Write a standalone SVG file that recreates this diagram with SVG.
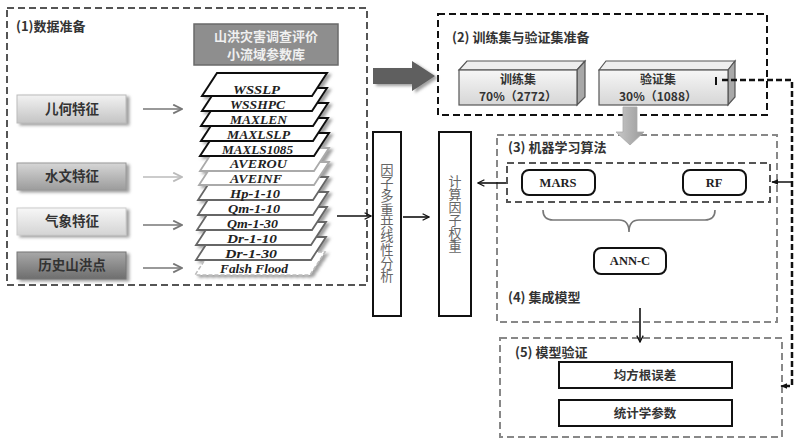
<svg xmlns="http://www.w3.org/2000/svg" width="800" height="443" viewBox="0 0 800 443">
<defs>
<style>
.cn{font-family:"Noto Sans CJK SC","Liberation Serif",serif;font-weight:bold;fill:#333;}
.lt{font-family:"Liberation Serif","Noto Sans CJK SC",serif;font-weight:bold;fill:#222;font-size:12.5px;}
.lay{font-family:"Liberation Serif",serif;font-weight:bold;font-style:italic;font-size:13px;fill:#222;}
.sec{fill:none;stroke-width:2;stroke-dasharray:7 4;}
.arr{fill:none;stroke-width:1.6;}
.vt{font-family:"Noto Sans CJK SC",serif;fill:#666;writing-mode:tb;}
</style>
<linearGradient id="gA" x1="0" y1="0" x2="0" y2="1"><stop offset="0" stop-color="#f2f2f2"/><stop offset="1" stop-color="#c4c4c4"/></linearGradient>
<linearGradient id="gB" x1="0" y1="0" x2="0" y2="1"><stop offset="0" stop-color="#d6d6d6"/><stop offset="1" stop-color="#9c9c9c"/></linearGradient>
<linearGradient id="gC" x1="0" y1="0" x2="0" y2="1"><stop offset="0" stop-color="#f7f7f7"/><stop offset="1" stop-color="#d4d4d4"/></linearGradient>
<linearGradient id="gD" x1="0" y1="0" x2="0" y2="1"><stop offset="0" stop-color="#a8a8a8"/><stop offset="1" stop-color="#6e6e6e"/></linearGradient>
<linearGradient id="gF" x1="0" y1="0" x2="0" y2="1"><stop offset="0" stop-color="#f6f6f6"/><stop offset="1" stop-color="#d6d6d6"/></linearGradient>
<linearGradient id="gG" x1="0" y1="0" x2="1" y2="0"><stop offset="0" stop-color="#c8c8c8"/><stop offset="1" stop-color="#9a9a9a"/></linearGradient>
<filter id="sh" x="-10%" y="-20%" width="130%" height="160%"><feDropShadow dx="3" dy="2" stdDeviation="1.5" flood-color="#777" flood-opacity="0.7"/></filter>
<marker id="mk" viewBox="0 0 10 10" refX="9" refY="5" markerWidth="8" markerHeight="8" orient="auto" markerUnits="userSpaceOnUse"><path d="M1,1 L9,5 L1,9" fill="none" stroke="#111" stroke-width="1.6"/></marker>
<marker id="mg" viewBox="0 0 10 10" refX="9" refY="5" markerWidth="11" markerHeight="11" orient="auto" markerUnits="userSpaceOnUse"><path d="M1,1 L9,5 L1,9" fill="none" stroke="#777" stroke-width="1.6"/></marker>
<marker id="ml" viewBox="0 0 10 10" refX="9" refY="5" markerWidth="11" markerHeight="11" orient="auto" markerUnits="userSpaceOnUse"><path d="M1,1 L9,5 L1,9" fill="none" stroke="#bbb" stroke-width="1.6"/></marker>
<marker id="mf" viewBox="0 0 10 10" refX="9" refY="5" markerWidth="7" markerHeight="7" orient="auto" markerUnits="userSpaceOnUse"><path d="M0,1 L10,5 L0,9 Z" fill="#111"/></marker>
</defs>
<rect width="800" height="443" fill="#fff"/>

<g id="sec1">
<rect class="sec" x="7" y="8" width="360" height="277" stroke="#555"/>
<text class="cn" x="16" y="31" font-size="13">(1)数据准备</text>
</g>

<g id="db">
<rect x="194" y="24" width="144" height="41" fill="#8e8e8e" stroke="#6a6a6a" stroke-width="1.5"/>
<text class="cn" x="266" y="41" font-size="13" text-anchor="middle" style="fill:#f0f0f0">山洪灾害调查评价</text>
<text class="cn" x="266" y="59" font-size="13" text-anchor="middle" style="fill:#f0f0f0">小流域参数库</text>
</g>

<g id="geo"><rect x="17" y="95" width="109" height="28" fill="url(#gA)" stroke="#bbb" filter="url(#sh)"/><text class="cn" x="72" y="114" font-size="13.5" text-anchor="middle">儿何特征</text></g>
<g id="hyd"><rect x="17" y="163" width="109" height="27" fill="url(#gB)" stroke="#999" filter="url(#sh)"/><text class="cn" x="72" y="181" font-size="13.5" text-anchor="middle">水文特征</text></g>
<g id="met"><rect x="17" y="208" width="109" height="27" fill="url(#gC)" stroke="#ccc" filter="url(#sh)"/><text class="cn" x="72" y="226" font-size="13.5" text-anchor="middle">气象特征</text></g>
<g id="hist"><rect x="17" y="252" width="109" height="27" fill="url(#gD)" stroke="#777" filter="url(#sh)"/><text class="cn" x="72" y="270" font-size="13.5" text-anchor="middle">历史山洪点</text></g>

<g id="stack">
<g filter="url(#sh)">
<polygon points="210,252 325,252 310,275 195,275" fill="#fff" stroke="#bbb" stroke-width="1.5" stroke-dasharray="4 2"/>
<polygon points="211,237 326,237 311,260 196,260" fill="#fff" stroke="#666" stroke-width="1.8"/>
<polygon points="211,222 326,222 311,245 196,245" fill="#fff" stroke="#666" stroke-width="1.8"/>
<polygon points="212,207 327,207 312,230 197,230" fill="#fff" stroke="#666" stroke-width="1.8"/>
<polygon points="213,192 328,192 313,215 198,215" fill="#fff" stroke="#666" stroke-width="1.8"/>
<polygon points="213,177 328,177 313,200 198,200" fill="#fff" stroke="#666" stroke-width="1.8"/>
<polygon points="214,162 329,162 314,185 199,185" fill="#fff" stroke="#aaa" stroke-width="1.8"/>
<polygon points="215,148 329,148 314,171 200,171" fill="#fff" stroke="#aaa" stroke-width="1.8"/>
<polygon points="215,133 329,133 314,156 200,156" fill="#fff" stroke="#111" stroke-width="2"/>
<polygon points="216,118 328,118 313,141 201,141" fill="#fff" stroke="#111" stroke-width="2"/>
<polygon points="216,103 328,103 313,126 201,126" fill="#fff" stroke="#111" stroke-width="2"/>
<polygon points="217,88 327,88 312,111 202,111" fill="#fff" stroke="#111" stroke-width="2"/>
<polygon points="217,73 327,73 312,96 202,96" fill="#fff" stroke="#111" stroke-width="2"/>
</g>
<text class="lay" x="233" y="94" textLength="47" lengthAdjust="spacingAndGlyphs">WSSLP</text>
<text class="lay" x="230" y="109" textLength="55" lengthAdjust="spacingAndGlyphs">WSSHPC</text>
<text class="lay" x="230" y="124" textLength="57" lengthAdjust="spacingAndGlyphs">MAXLEN</text>
<text class="lay" x="227" y="139" textLength="63" lengthAdjust="spacingAndGlyphs">MAXLSLP</text>
<text class="lay" x="222" y="154" textLength="71" lengthAdjust="spacingAndGlyphs">MAXLS1085</text>
<text class="lay" x="230" y="168" textLength="57" lengthAdjust="spacingAndGlyphs">AVEROU</text>
<text class="lay" x="230" y="183" textLength="52" lengthAdjust="spacingAndGlyphs">AVEINF</text>
<text class="lay" x="230" y="198" textLength="50" lengthAdjust="spacingAndGlyphs">Hp-1-10</text>
<text class="lay" x="228" y="213" textLength="52" lengthAdjust="spacingAndGlyphs">Qm-1-10</text>
<text class="lay" x="227" y="228" textLength="51" lengthAdjust="spacingAndGlyphs">Qm-1-30</text>
<text class="lay" x="227" y="243" textLength="50" lengthAdjust="spacingAndGlyphs">Dr-1-10</text>
<text class="lay" x="225" y="258" textLength="52" lengthAdjust="spacingAndGlyphs">Dr-1-30</text>
<text class="lay" x="220" y="273" textLength="68" lengthAdjust="spacingAndGlyphs">Falsh Flood</text>
</g>

<g id="vif"><rect x="373" y="132" width="28" height="184" fill="#fff" stroke="#111" stroke-width="2"/><text class="vt" x="387" y="163" font-size="13.3">因子多重共线性分析</text></g>
<g id="wt"><rect x="439" y="132" width="32" height="184" fill="#fff" stroke="#111" stroke-width="2"/><text class="vt" x="455" y="175" font-size="13">计算因子权重</text></g>

<g id="sec2">
<rect class="sec" x="438" y="14" width="329" height="101" stroke="#111" stroke-width="2.5" stroke-dasharray="8 4"/>
<text class="cn" x="452" y="42" font-size="13">(2) 训练集与验证集准备</text>
</g>
<g id="train">
<polygon points="459,70 467,61 585,61 577,70" fill="#eee" stroke="#555" stroke-width="1.2"/>
<polygon points="577,70 585,61 585,97 577,105" fill="#a8a8a8" stroke="#555" stroke-width="1.2"/>
<rect x="459" y="70" width="118" height="35" fill="url(#gF)" stroke="#555" stroke-width="1.2"/>
<text class="cn" x="518" y="84" font-size="12" text-anchor="middle">训练集</text>
<text class="cn" x="518" y="101" font-size="12" text-anchor="middle">70%（2772）</text>
</g>
<g id="valid">
<polygon points="599,70 606,61 735,61 728,70" fill="#eee" stroke="#555" stroke-width="1.2"/>
<polygon points="728,70 735,61 735,97 728,105" fill="#a8a8a8" stroke="#555" stroke-width="1.2"/>
<rect x="599" y="70" width="129" height="35" fill="url(#gF)" stroke="#555" stroke-width="1.2"/>
<text class="cn" x="658" y="84" font-size="12" text-anchor="middle">验证集</text>
<text class="cn" x="658" y="101" font-size="12" text-anchor="middle">30%（1088）</text>
</g>

<g id="sec3">
<rect class="sec" x="497" y="135" width="280" height="187" stroke="#888"/>
<text class="cn" x="508" y="152" font-size="13">(3) 机器学习算法</text>
<text class="cn" x="508" y="302" font-size="13">(4) 集成模型</text>
<rect class="sec" x="507" y="163" width="263" height="39" stroke="#555"/>
</g>
<g id="mars"><rect x="522" y="170" width="73" height="25" rx="7" fill="#fff" stroke="#111" stroke-width="2"/><text class="lt" x="558" y="187" text-anchor="middle">MARS</text></g>
<g id="rf"><rect x="683" y="170" width="63" height="25" rx="7" fill="#fff" stroke="#111" stroke-width="2"/><text class="lt" x="714" y="187" text-anchor="middle">RF</text></g>
<g id="annc"><rect x="594" y="248" width="72" height="26" rx="7" fill="#fff" stroke="#111" stroke-width="2"/><text class="lt" x="630" y="265" text-anchor="middle">ANN-C</text></g>
<g id="brace"><path d="M543,210 Q543,220 553,220 L619,220 Q629,220 629,232 Q629,220 639,220 L705,220 Q715,220 715,210" fill="none" stroke="#777" stroke-width="1.6"/></g>

<g id="sec5">
<rect class="sec" x="500" y="338" width="282" height="99" stroke="#888"/>
<text class="cn" x="515" y="357" font-size="13">(5) 模型验证</text>
</g>
<g id="rmse"><rect x="559" y="362" width="173" height="26" fill="#fff" stroke="#111" stroke-width="2"/><text class="cn" x="645" y="380" font-size="12.5" text-anchor="middle">均方根误差</text></g>
<g id="stat"><rect x="559" y="400" width="173" height="26" fill="#fff" stroke="#111" stroke-width="2"/><text class="cn" x="645" y="418" font-size="12.5" text-anchor="middle">统计学参数</text></g>

<g id="connectors">
<line class="arr" x1="143" y1="109" x2="182" y2="109" stroke="#777" marker-end="url(#mg)"/>
<line class="arr" x1="143" y1="177" x2="182" y2="177" stroke="#bbb" marker-end="url(#ml)"/>
<line class="arr" x1="143" y1="225" x2="182" y2="225" stroke="#777" marker-end="url(#mg)"/>
<line class="arr" x1="143" y1="268" x2="182" y2="268" stroke="#777" marker-end="url(#mg)"/>
<line class="arr" x1="337" y1="216" x2="371" y2="216" stroke="#111" marker-end="url(#mk)"/>
<line class="arr" x1="403" y1="217" x2="429" y2="217" stroke="#111" marker-end="url(#mk)"/>
<line class="arr" x1="506" y1="183" x2="478" y2="183" stroke="#111" marker-end="url(#mk)"/>
<line class="arr" x1="640" y1="308" x2="640" y2="342" stroke="#111" marker-end="url(#mk)"/>
<polygon points="373,68 412,68 412,61 435,76 412,91 412,84 373,84" fill="#5e5e5e" filter="url(#sh)"/>
<polygon points="623,107 637,107 637,132 644,132 630,145 616,132 623,132" fill="url(#gG)" stroke="#aaa" stroke-width="0.8"/>
<line x1="716" y1="77" x2="716" y2="85" stroke="#111" stroke-width="2"/>
<path d="M722,80 L792,80 L792,386 L785,386" fill="none" stroke="#111" stroke-width="2.5" stroke-dasharray="6 3"/>
<line x1="786" y1="386" x2="781" y2="386" stroke="#111" stroke-width="1.5" marker-end="url(#mf)"/>
<line x1="792" y1="182" x2="772" y2="182" stroke="#111" stroke-width="1.5" marker-end="url(#mf)"/>
</g>
</svg>
